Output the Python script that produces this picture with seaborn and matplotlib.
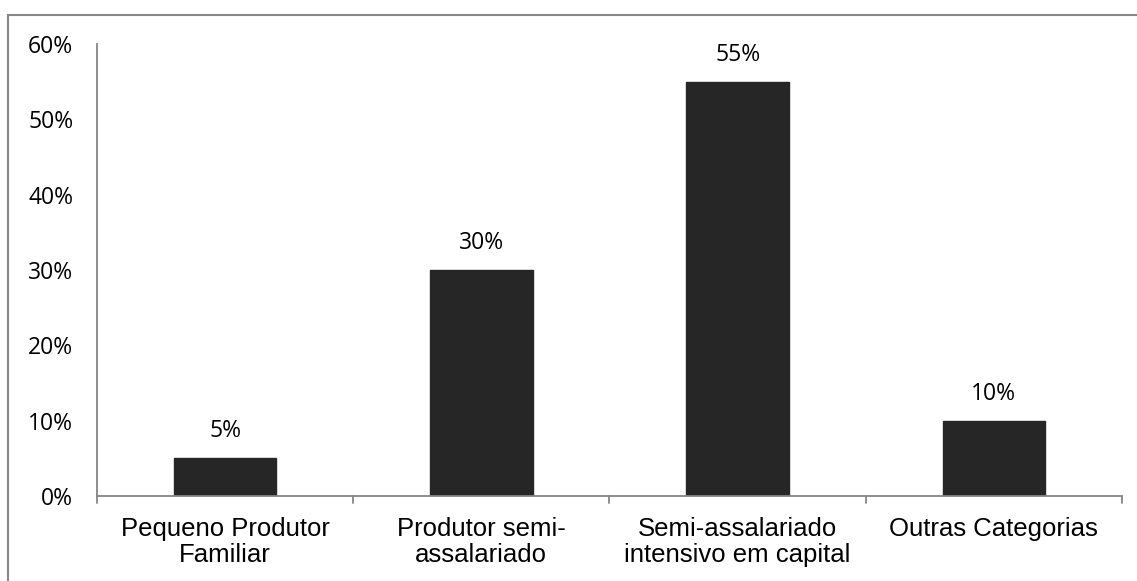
import numpy as np
import pandas as pd
import seaborn as sns
import matplotlib.pyplot as plt
from matplotlib.patches import Rectangle
from matplotlib.ticker import FuncFormatter

categories = ["Pequeno Produtor\nFamiliar", "Produtor semi-\nassalariado",
              "Semi-assalariado\nintensivo em capital", "Outras Categorias"]
values = [5, 30, 55, 10]
y_ticks = [0, 10, 20, 30, 40, 50, 60]

df = pd.DataFrame({"cat": categories, "val": values})

sns.set_style("white")
fig = plt.figure(figsize=(11.37, 5.81), dpi=100)
ax = fig.add_axes([0.0853, 0.1463, 0.9015, 0.778])

sns.barplot(data=df, x="cat", y="val", color="#262626", width=0.40,
            saturation=1, ax=ax, edgecolor="#262626")

ax.set_ylim(0, 60)
ax.set_xlim(-0.5, len(categories) - 0.5)
ax.set_yticks(y_ticks)
ax.yaxis.set_major_formatter(FuncFormatter(lambda v, p: f"{v:.0f}%"))
ax.set_xlabel("")
ax.set_ylabel("")

for s in ["top", "right"]:
    ax.spines[s].set_visible(False)
for s in ["left", "bottom"]:
    ax.spines[s].set_color("#868686")
    ax.spines[s].set_linewidth(1.3)

ax.tick_params(axis="y", direction="out", length=7, width=1.3, color="#868686",
               labelsize=16.5, pad=10, labelcolor="black")
ax.tick_params(axis="x", length=0, labelsize=18.5, pad=15, labelcolor="black")
for lab in ax.get_yticklabels():
    lab.set_fontfamily("Open Sans")
for lab in ax.get_xticklabels():
    lab.set_fontfamily("Liberation Sans")
    lab.set_linespacing(1.1)

# category boundary ticks on the x axis
for b in np.arange(-0.5, len(categories), 1.0):
    ax.plot([b, b], [0, -0.015], transform=ax.get_xaxis_transform(),
            color="#868686", lw=1.3, clip_on=False)

for i, v in enumerate(values):
    ax.text(i, v + 2.0, f"{v}%", ha="center", va="bottom", fontsize=16.5,
            family="Open Sans", color="#000000")

fig.add_artist(Rectangle((8 / 1137, -0.1), 1.2, 1 - 15 / 581 + 0.1,
                         transform=fig.transFigure, fill=False,
                         edgecolor="#868686", lw=1.5))

fig.savefig("out.png", dpi=100)
